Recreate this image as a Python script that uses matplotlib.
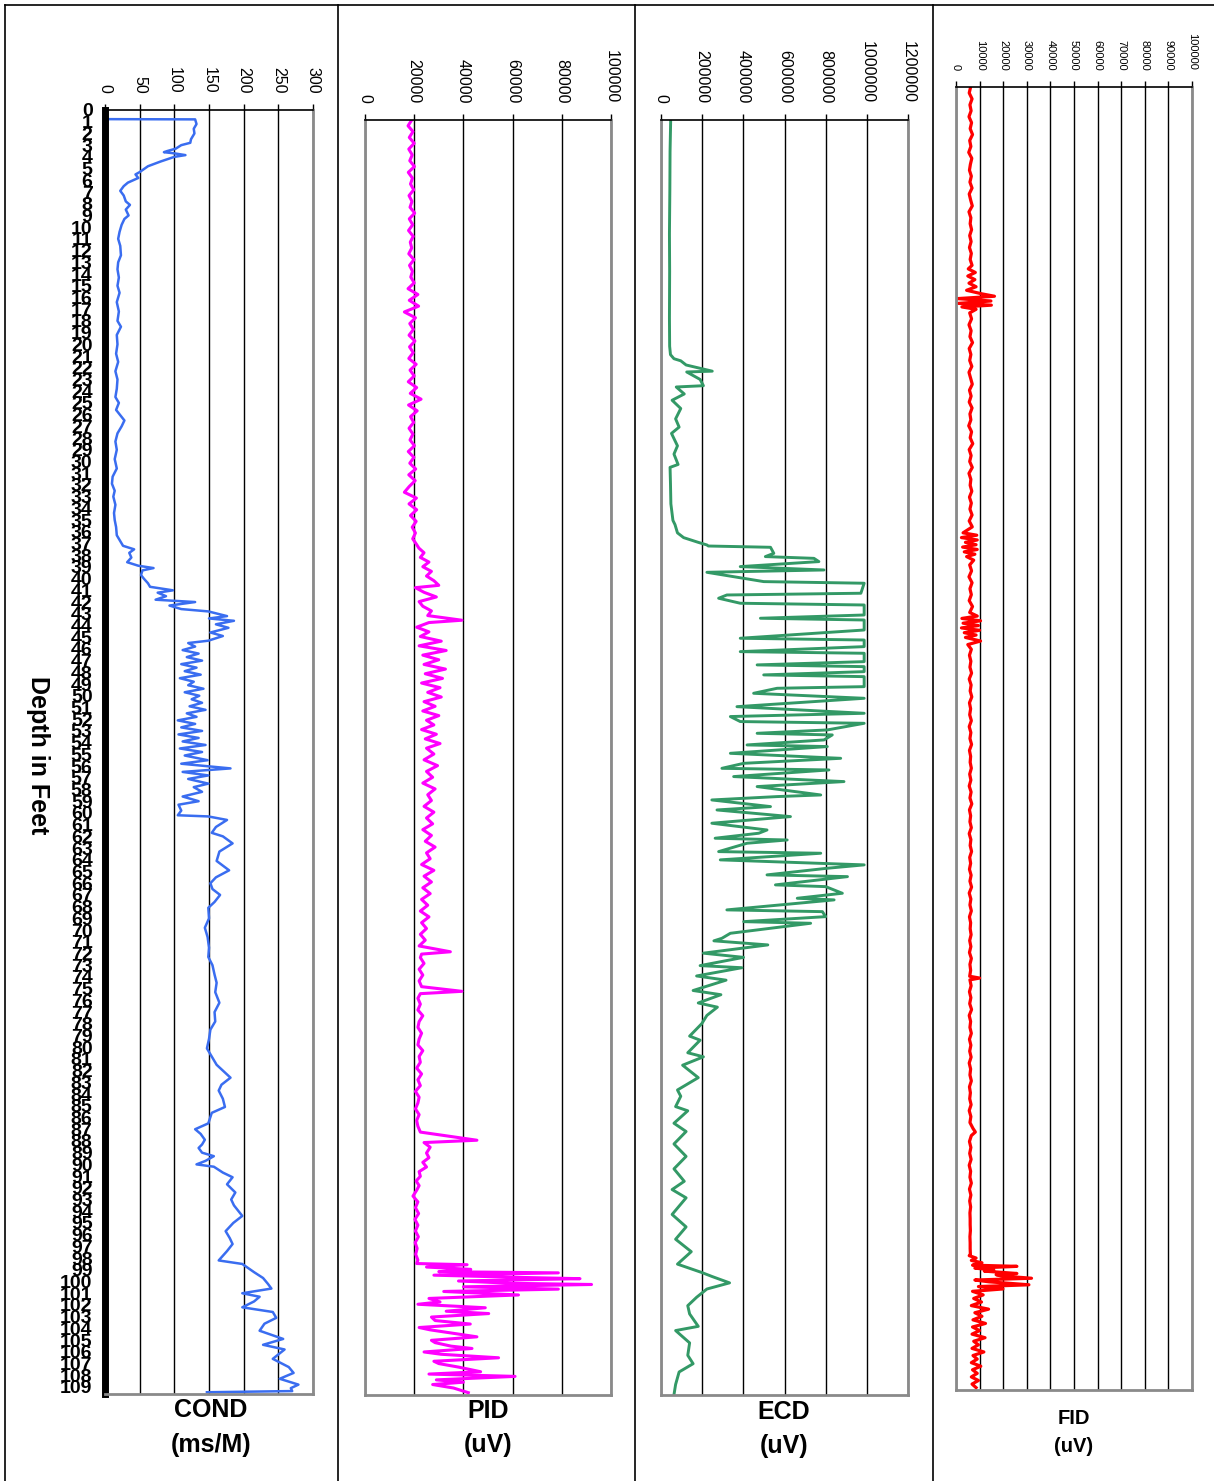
import matplotlib
matplotlib.use("Agg")
import matplotlib.pyplot as plt
from matplotlib.lines import Line2D

plt.rcParams["font.family"] = ["Liberation Sans", "DejaVu Sans"]

# ---- data (depth in feet, reading) ----
depth_labels = list(range(110))
depth_max = 109.6

cond_ticks = [0, 50, 100, 150, 200, 250, 300]
pid_ticks = [0, 20000, 40000, 60000, 80000, 100000]
ecd_ticks = [0, 200000, 400000, 600000, 800000, 1000000, 1200000]
fid_ticks = [0, 10000, 20000, 30000, 40000, 50000, 60000, 70000, 80000, 90000, 100000]

cond_depth = [
    0.0, 0.78, 0.8, 1.2, 1.6, 2.0, 2.5, 2.8, 3.0, 3.3, 3.5, 3.6, 3.7, 3.85, 4.0, 4.4, 4.8, 5.3,
    5.5, 5.8, 6.2, 6.5, 6.9, 7.3, 7.8, 8.1, 8.5, 9.0, 9.3, 9.8, 10.4, 11.0, 11.6, 12.4, 13.0,
    13.6, 14.3, 15.0, 15.6, 16.4, 17.2, 18.0, 18.5, 19.2, 20.0, 20.8, 21.5, 22.3, 23.0, 23.8,
    24.5, 25.0, 25.6, 26.5, 27.0, 27.6, 28.3, 29.0, 29.8, 30.6, 31.3, 31.9, 32.5, 33.0, 33.7,
    34.4, 35.0, 35.6, 36.3, 36.8, 37.2, 37.5, 37.8, 38.2, 38.6, 38.9, 39.1, 39.3, 39.7, 40.0,
    40.4, 40.7, 41.0, 41.2, 41.5, 41.8, 42.0, 42.3, 42.6, 42.8, 43.2, 43.4, 43.6, 43.9, 44.2,
    44.6, 44.9, 45.3, 45.5, 45.8, 46.1, 46.4, 46.7, 47.0, 47.3, 47.6, 47.9, 48.2, 48.5, 48.8,
    49.1, 49.4, 49.7, 50.0, 50.3, 50.6, 50.9, 51.2, 51.5, 51.8, 52.1, 52.4, 52.7, 53.0, 53.3,
    53.6, 53.9, 54.2, 54.5, 54.8, 55.1, 55.5, 55.8, 56.2, 56.5, 56.8, 57.1, 57.5, 57.8, 58.2,
    58.6, 59.0, 59.3, 59.8, 60.2, 60.3, 60.6, 61.2, 61.7, 62.0, 62.6, 63.3, 64.1, 64.9, 65.5,
    66.0, 66.5, 67.0, 67.6, 68.1, 69.0, 69.8, 70.6, 71.5, 72.3, 73.0, 73.8, 74.5, 75.3, 76.2,
    77.0, 77.8, 78.5, 79.3, 80.1, 80.6, 81.5, 82.0, 82.6, 83.2, 83.7, 84.4, 85.1, 85.6, 86.5,
    87.0, 87.4, 87.9, 88.3, 88.6, 89.0, 89.3, 89.7, 90.0, 90.2, 90.7, 91.1, 91.7, 92.4, 93.0,
    93.5, 94.4, 95.0, 95.7, 96.3, 96.8, 97.4, 98.2, 98.5, 99.2, 99.7, 100.2, 100.6, 101.0,
    101.3, 101.7, 102.2, 102.6, 103.1, 103.6, 104.2, 104.9, 105.4, 105.8, 106.6, 107.3, 107.8,
    108.3, 108.8, 109.1, 109.35, 109.45,
]
cond_val = [
    0, 0, 130, 132, 128, 129, 124, 123, 110, 102, 90, 85, 100, 116, 100, 80, 62, 50,
    44, 48, 33, 27, 22, 27, 30, 36, 30, 34, 28, 24, 21, 19, 22, 23, 19,
    18, 20, 18, 21, 17, 20, 18, 23, 17, 18, 16, 19, 15, 18, 17,
    15, 20, 16, 28, 24, 18, 15, 17, 14, 17, 11, 10, 14, 12, 15,
    13, 14, 16, 17, 22, 26, 42, 35, 38, 32, 48, 70, 54, 52, 56,
    62, 65, 98, 76, 88, 73, 130, 93, 110, 149, 176, 150, 186, 160, 178,
    152, 170, 149, 120, 130, 112, 135, 118, 140, 110, 132, 115, 138, 108, 128,
    120, 142, 115, 136, 125, 140, 122, 145, 118, 132, 105, 130, 110, 140, 106,
    135, 112, 145, 108, 140, 115, 148, 110, 181, 112, 149, 120, 149, 128, 140,
    112, 135, 106, 110, 105, 149, 176, 160, 154, 170, 184, 165, 161, 179, 160,
    152, 155, 166, 158, 149, 150, 144, 148, 150, 149, 155, 158, 161, 159, 165,
    158, 159, 152, 150, 147, 152, 161, 170, 181, 168, 164, 170, 173, 154, 149,
    130, 138, 144, 140, 135, 140, 157, 145, 132, 157, 170, 184, 176, 188, 182,
    186, 198, 185, 174, 180, 184, 176, 164, 198, 215, 228, 235, 240, 198,
    223, 215, 198, 242, 247, 230, 223, 257, 228, 259, 242, 265, 272,
    252, 279, 268, 270, 147,
]

pid_depth = [
    0.0, 0.5, 1.0, 1.5, 2.0, 2.5, 3.0, 3.5, 4.0, 4.5, 5.0, 5.5, 6.0, 6.5, 7.0, 7.5, 8.0, 8.5,
    9.0, 9.5, 10.0, 10.5, 11.0, 11.5, 12.0, 12.5, 13.0, 13.5, 14.0, 14.5, 15.0, 15.5, 16.0,
    16.5, 17.0, 17.5, 18.0, 18.5, 19.0, 19.5, 20.0, 20.5, 21.0, 21.5, 22.0, 22.5, 23.0, 23.5,
    24.0, 24.5, 25.0, 25.5, 26.0, 26.5, 27.0, 27.5, 28.0, 28.5, 29.0, 29.5, 30.0, 30.5, 31.0,
    31.5, 32.0, 32.5, 33.0, 33.5, 34.0, 34.5, 35.0, 35.5, 36.0, 36.5,
    36.8, 37.2, 37.6, 38.0, 38.4, 38.8, 39.2, 39.6, 40.0, 40.2, 40.6, 41.0, 41.4, 41.8, 42.2,
    42.6, 43.0, 43.2, 43.6, 44.0, 44.4, 44.8, 45.2, 45.6, 46.0, 46.4, 46.8, 47.2, 47.6, 48.0,
    48.4, 48.8, 49.2, 49.6, 50.0, 50.4, 50.8, 51.2, 51.6, 52.0, 52.4, 52.8, 53.2, 53.6, 54.0,
    54.5, 55.0, 55.5, 56.0, 56.5, 57.0, 57.5, 58.0, 58.5, 59.0, 59.5, 60.0, 60.5, 61.0, 61.5,
    62.0, 62.5, 63.0, 63.5, 64.0, 64.5, 65.0, 65.5, 66.0, 66.5, 67.0, 67.5, 68.0, 68.5, 69.0,
    69.5, 70.0, 70.5, 71.0, 71.5, 71.7, 72.0, 72.5, 73.0, 73.5, 74.0, 74.5, 74.9, 75.1, 75.5,
    76.0, 76.5, 77.0, 77.5, 78.0, 78.5, 79.0, 79.5, 80.0, 80.5, 81.0, 81.5, 82.0, 82.5, 83.0,
    83.5, 84.0, 84.5, 85.0, 85.5, 86.0, 86.5, 87.0, 87.7, 87.9, 88.3, 88.8, 89.2, 89.6, 90.0,
    90.4, 90.8, 91.2, 91.6, 92.0, 92.5, 93.0, 93.5, 94.0, 94.5, 95.0, 95.5, 96.0, 96.5, 97.0,
    97.5, 98.0, 98.3, 98.4, 98.6, 98.8, 99.0, 99.1, 99.3, 99.5, 99.6, 99.8, 100.0, 100.1,
    100.3, 100.5, 100.7, 101.0, 101.3, 101.6, 101.8, 102.1, 102.4, 102.6, 102.9, 103.2, 103.5,
    103.8, 104.0, 104.3, 104.6, 104.9, 105.1, 105.4, 105.6, 105.9, 106.1, 106.4, 106.7, 106.9,
    107.2, 107.6, 107.8, 108.0, 108.3, 108.5, 108.7, 109.0, 109.4,
]
pid_val = [
    19000, 17500, 19500, 18000, 20000, 17800, 19200, 18200, 20100, 17600, 19300, 18500, 19800,
    17900, 19100, 18300, 20200, 18000, 19400, 17700, 19600, 18400, 19000, 17800, 19900, 18100,
    19300, 18600, 20000, 17500, 21500, 18000, 21800, 16000, 20500, 18200, 19700, 17900, 20300,
    18100, 19600, 17800, 20800, 18300, 20000, 17600, 21000, 18400, 22800, 17700, 21200, 18500,
    19800, 17900, 19500, 18300, 20100, 17600, 19900, 18200, 20600, 17800, 20400, 18000, 16000,
    20900, 17900, 21000, 18500, 20800, 19200, 20500, 19400, 21000,
    21900, 24000, 22500, 26000, 23500, 27000, 25000, 28000, 30000, 20500, 24000, 29000, 22000,
    23500, 27000, 25500, 39400, 26000, 21000, 26000, 22500, 31000, 22000, 33000, 23500, 30000,
    24000, 32700, 24500, 31500, 23000, 30500, 25500, 31000, 24000, 28500, 23500, 30000, 25000,
    28000, 23000, 29000, 24500, 30500, 25000,
    28000, 24000, 29500, 25000, 27500, 23500, 28500, 25500, 27000, 24000, 28000, 25000, 27500,
    23500, 27000, 24500, 28500, 25000, 26500, 23000, 28000, 24000, 27000, 23500, 26500, 23000,
    25500, 22500, 26000, 23000, 25000, 22500, 24500, 22000, 34700, 23000, 22500, 24000, 22000,
    23500, 22000, 23000, 39400, 22500, 21500, 22500, 21500, 23500, 22000, 21500, 23000, 22000,
    21500, 23500, 22000, 22500, 21000, 23000, 21500, 22500, 20500, 22000, 21500, 20500, 22000,
    21000, 21500, 22500, 45500, 24000, 26500, 25000, 26000, 23500, 25000, 22000, 22500, 20800,
    22000, 21000, 19500, 21500, 20500, 21800, 20300, 21500, 20500, 21700, 20400, 21200, 20600,
    21500, 21000, 41500, 25000, 43000, 30000, 78600, 28000, 65000, 87400, 38000, 60000, 92100,
    40000, 78600, 32000, 62400, 26000, 30500, 21500, 48900, 33000, 50300, 27000, 28500, 42800,
    22000, 26500, 36000, 45500, 27000, 28500, 35000, 43500, 24000, 31000, 54300, 28000, 30000,
    38000, 47000, 26000, 61000, 29000, 40000, 27500, 36000, 42000,
]

ecd_depth = [
    0.03, 2.7, 6.0, 9.8, 13.0, 17.0, 19.45, 20.17, 20.52, 20.7, 21.06, 21.59, 21.66, 22.3,
    22.84, 22.95, 23.55, 24.09, 24.8, 25.69, 26.4, 26.94, 28.01, 28.72, 29.61, 29.86, 31.22,
    33.0, 34.42, 34.78, 35.49, 35.9, 36.3, 36.53, 36.62, 36.73, 37.25, 37.53, 37.68, 37.96,
    38.39, 38.68, 38.88, 39.68, 39.82, 40.68, 40.83, 41.11, 41.54, 41.69, 42.55, 42.83, 42.98,
    43.84, 44.55, 44.70, 45.27, 45.70, 45.84, 46.56, 46.84, 46.99, 47.42, 47.70, 47.85, 48.71,
    48.85, 49.28, 49.71, 50.43, 51.0, 51.28, 51.71, 51.86, 52.43, 52.72, 52.86, 53.29, 53.72,
    53.86, 54.44, 54.87, 55.30, 55.73, 55.87, 56.44, 56.87, 57.30, 58.02, 58.16, 58.45, 59.02,
    59.31, 59.88, 60.45, 61.03, 61.31, 61.74, 61.89, 62.17, 62.89, 63.03, 63.60, 64.03, 64.32,
    64.89, 65.04, 65.75, 65.90, 66.47, 66.90, 67.04, 67.90, 68.05, 68.48, 68.91, 69.05, 69.91,
    70.34, 70.56, 70.91, 71.62, 71.98, 72.69, 72.87, 73.58, 73.94, 74.83, 75.19, 75.9, 76.26,
    76.97, 77.68, 78.75, 79.1, 80.18, 80.53, 81.25, 81.96, 82.32, 83.38, 83.92, 84.81, 85.17,
    86.24, 86.95, 88.02, 89.09, 90.16, 91.23, 91.94, 92.65, 94.08, 95.15, 96.21, 97.28, 98.35,
    99.07, 99.42, 99.96, 100.49, 101.2, 101.92, 102.63, 103.7, 104.06, 105.12, 106.19, 106.91,
    107.62, 108.69, 109.58,
]
ecd_val = [
    47000, 44000, 43000, 41000, 42000, 41000, 42000, 46000, 63000, 96000, 122000, 249000,
    125000, 190000, 206000, 74000, 113000, 54000, 96000, 71000, 88000, 51000, 80000, 63000,
    83000, 44000, 46000, 48000, 58000, 68000, 80000, 110000, 180000, 223000, 230000, 532000,
    548000, 507000, 743000, 767000, 385000, 792000, 223000, 499000, 987000, 971000, 320000,
    280000, 385000, 987000, 987000, 483000, 987000, 987000, 385000, 987000, 987000, 385000,
    987000, 987000, 467000, 987000, 987000, 499000, 987000, 987000, 564000, 450000, 987000,
    369000, 987000, 337000, 385000, 987000, 808000, 467000, 832000, 792000, 418000, 808000,
    337000, 873000, 402000, 296000, 816000, 353000, 889000, 467000, 776000, 564000, 247000,
    532000, 272000, 629000, 247000, 515000, 475000, 263000, 613000, 418000, 280000, 776000,
    288000, 987000, 808000, 515000, 906000, 556000, 800000, 881000, 662000, 841000, 320000,
    784000, 800000, 402000, 727000, 337000, 296000, 257000, 519000, 206000, 401000, 190000,
    393000, 173000, 316000, 156000, 291000, 181000, 274000, 223000, 198000, 139000, 190000,
    130000, 206000, 105000, 156000, 181000, 80000, 96000, 71000, 130000, 63000, 122000, 63000,
    122000, 63000, 113000, 54000, 122000, 54000, 122000, 71000, 147000, 80000, 198000, 249000,
    333000, 223000, 173000, 130000, 139000, 181000, 71000, 139000, 130000, 156000, 88000,
    71000, 63000,
]

fid_depth = [
    0.0, 0.5, 1.0, 1.5, 2.0, 2.5, 3.0, 3.5, 4.0, 4.5, 5.0, 5.5, 6.0, 6.5, 7.0, 7.5, 8.0, 8.5,
    9.0, 9.5, 10.0, 10.5, 11.0, 11.5, 12.0, 12.5, 13.0, 13.5, 14.0, 14.5, 15.0, 15.3, 15.6,
    15.9, 16.2, 16.5, 16.8, 17.1, 17.4, 17.6, 17.8, 18.0, 18.2, 18.35, 18.5, 18.7, 19.0, 19.5,
    20.0, 20.5, 21.0, 21.5, 22.0, 22.5, 23.0, 23.5, 24.0, 24.5, 25.0, 25.5, 26.0, 26.5, 27.0,
    27.5, 28.0, 28.5, 29.0, 29.5, 30.0, 30.5, 31.0, 31.5, 32.0, 32.5, 33.0, 33.5, 34.0, 34.5,
    35.0, 35.5, 36.0, 36.5, 37.0, 37.5, 37.7, 37.9, 38.1, 38.3, 38.5, 38.7, 38.9, 39.1, 39.3,
    39.5, 39.8, 40.2, 40.7, 41.2, 41.7, 42.2, 42.7, 43.2, 43.7, 44.2, 44.5, 44.7, 44.9, 45.1,
    45.3, 45.5, 45.7, 45.9, 46.1, 46.3, 46.6, 46.9, 47.3, 47.8, 48.3, 48.8, 49.3, 49.8, 50.3,
    50.8, 51.3, 51.8, 52.3, 52.8, 53.3, 53.8, 54.3, 54.8, 55.3, 55.8, 56.3, 56.8, 57.3, 57.8,
    58.3, 58.8, 59.3, 59.8, 60.3, 60.8, 61.3, 61.8, 62.3, 62.8, 63.3, 63.8, 64.3, 64.8, 65.3,
    65.8, 66.3, 66.8, 67.3, 67.8, 68.3, 68.8, 69.3, 69.8, 70.3, 70.8, 71.3, 71.8, 72.3, 72.8,
    73.3, 73.8, 74.3, 74.8, 74.95, 75.1, 75.6, 76.1, 76.6, 77.1, 77.6, 78.1, 78.6, 79.1, 79.6,
    80.1, 80.6, 81.1, 81.6, 82.1, 82.6, 83.1, 83.6, 84.1, 84.6, 85.1, 85.6, 86.1, 86.6, 87.1,
    87.6, 87.9, 88.2, 88.7, 89.2, 89.7, 90.2, 90.7, 91.2, 91.7, 92.2, 92.7, 93.2, 93.7, 94.2,
    94.7, 95.2, 95.7, 96.2, 96.7, 97.2, 97.7, 98.2, 98.3, 98.5, 98.7, 98.9, 99.1, 99.2, 99.35,
    99.5, 99.6, 99.8, 99.9, 100.0, 100.2, 100.35, 100.5, 100.75, 100.9, 101.1, 101.3, 101.6,
    101.9, 102.2, 102.5, 102.8, 103.1, 103.4, 103.7, 104.0, 104.3, 104.6, 104.9, 105.2, 105.5,
    105.8, 106.1, 106.4, 106.7, 107.0, 107.3, 107.6, 107.9, 108.2, 108.5, 108.8, 109.1, 109.4,
]
fid_val = [
    6200, 5600, 6800, 5900, 6400, 5500, 6600, 6000, 7000, 5800, 6300, 5400, 6700, 6100, 5700,
    6500, 5900, 6800, 5600, 6200, 6900, 5500, 6300, 6000, 6600, 5800, 6400, 5700, 6500, 6000,
    6800, 5200, 8200, 5000, 8000, 5500, 8500, 4500, 11000, 16300, 600, 14800, 1000, 15000,
    2500, 8500, 5800, 6600, 5500, 6400, 5900, 7000, 5600, 6300, 5800, 6700, 5500, 6200, 6900,
    5700, 6400, 5600, 6800, 5900, 6300, 5400, 6600, 6000, 7100, 5600, 6400, 5800, 6900, 5500,
    6300, 6000, 6700, 5700, 6500, 5900, 6800, 5600, 6900, 3000, 8800, 2300, 9000, 4000, 8500,
    2800, 9000, 3500, 8000, 4500, 7500, 5800, 6600, 5500, 6800, 5900, 6500, 5600, 7000, 5800,
    9000, 2500, 10400, 3000, 9500, 2300, 10000, 3500, 8500, 4000, 10400, 5000, 6500, 5700,
    6300, 5900, 6600, 5600, 6400, 6000, 6700, 5700, 6200, 5800, 6500, 5600, 6300, 5900, 6600,
    5700, 6200, 6000, 6500, 5800, 6300, 5600, 6400, 5900, 6700, 5700, 6200, 5900, 6500, 5600,
    6300, 6000, 6600, 5800, 6200, 5700, 6400, 5900, 6600, 5600, 6300, 5900, 6500, 5700, 6200,
    6000, 6400, 5800, 6300, 5700, 6500, 5900, 6200, 5800, 10000, 5900, 6400, 5700, 6300, 5800,
    6600, 5600, 6200, 5900, 6500, 5700, 6300, 5800, 6400, 5600, 6200, 5900, 6500, 5700, 6100,
    5800, 6400, 5600, 6300, 5900, 7200, 8200, 6500, 5700, 6300, 5800, 6400, 5600, 6200, 5900,
    6500, 5700, 6300, 5800, 6200, 5900, 6000, 6000, 6100, 5900, 6000, 6000, 6100, 5600, 8500,
    6500, 11000, 7000, 25800, 8000, 16000, 12000, 25800, 17000, 19000, 32000, 8000, 14000,
    30900, 9500, 19900, 7000, 11500, 7500, 10800, 6500, 13800, 8000, 11000, 7200, 12500, 7000,
    10000, 6800, 12300, 7500, 9500, 6800, 11800, 7200, 9000, 6500, 10500, 7000, 9000, 6500,
    9500, 6800, 8500,
]

# ---- layout ----
W, H = 1214, 1481
fig = plt.figure(figsize=(W / 100, H / 100), dpi=100)
fig.patch.set_facecolor("white")


def add_panel(left, top, right, bottom):
    return fig.add_axes([left / W, 1 - bottom / H, (right - left) / W, (bottom - top) / H])


def style_panel(ax, ticks, tick_size):
    ax.set_xlim(ticks[0], ticks[-1])
    ax.set_ylim(depth_max, 0)
    ax.xaxis.tick_top()
    ax.set_xticks(ticks)
    ax.set_xticklabels([str(t) for t in ticks], rotation=-90, fontsize=tick_size)
    ax.tick_params(axis="x", length=4, width=1, pad=8, colors="black")
    ax.grid(axis="x", color="black", linewidth=1)
    ax.set_axisbelow(True)
    for side in ("left", "right", "bottom"):
        ax.spines[side].set_color("#8a8a8a")
        ax.spines[side].set_linewidth(2)
    ax.spines["top"].set_color("black")
    ax.spines["top"].set_linewidth(1.2)


ax_cond = add_panel(105, 110, 313, 1394)
ax_pid = add_panel(365, 120, 611, 1395)
ax_ecd = add_panel(661, 120, 908, 1395)
ax_fid = add_panel(956, 87, 1192, 1390)

style_panel(ax_cond, cond_ticks, 11.5)
style_panel(ax_pid, pid_ticks, 11.5)
style_panel(ax_ecd, ecd_ticks, 11.5)
style_panel(ax_fid, fid_ticks, 8)

ax_cond.plot(cond_val, cond_depth, color="#3a6df0", linewidth=1.8)
ax_pid.plot(pid_val, pid_depth, color="#ff00ff", linewidth=2.2)
ax_ecd.plot(ecd_val, ecd_depth, color="#339966", linewidth=2.1)
ax_fid.plot(fid_val, fid_depth, color="#ff0000", linewidth=2.3)

# depth axis on the conductivity panel (labels crowd each other as in the source)
ax_cond.set_yticks(depth_labels)
ax_cond.set_yticklabels([str(d) for d in depth_labels], fontsize=14, fontweight="bold")
ax_cond.tick_params(axis="y", length=0, pad=9)
ax_cond.spines["left"].set_color("black")
ax_cond.spines["left"].set_linewidth(5)
for ax in (ax_pid, ax_ecd, ax_fid):
    ax.set_yticks([])

fig.text(38 / W, 1 - 755 / H, "Depth in Feet", rotation=-90, fontsize=18,
         fontweight="bold", ha="center", va="center")

titles = [
    (211, "COND", "(ms/M)", 18, 1410, 1445),
    (488, "PID", "(uV)", 18, 1411, 1445),
    (784, "ECD", "(uV)", 18, 1412, 1446),
    (1074, "FID", "(uV)", 14.5, 1419, 1447),
]
for x, name, unit, size, y1, y2 in titles:
    fig.text(x / W, 1 - y1 / H, name, fontsize=size, fontweight="bold", ha="center", va="center")
    fig.text(x / W, 1 - y2 / H, unit, fontsize=size, fontweight="bold", ha="center", va="center")

# frame lines around the panels
frame = dict(color="black", linewidth=1.2, transform=fig.transFigure)
fig.add_artist(Line2D([5 / W, 1], [1 - 5 / H, 1 - 5 / H], **frame))
for xl in (5, 338, 635, 933):
    fig.add_artist(Line2D([xl / W, xl / W], [0, 1 - 5 / H], **frame))

fig.savefig("out.png", dpi=100, facecolor="white")
